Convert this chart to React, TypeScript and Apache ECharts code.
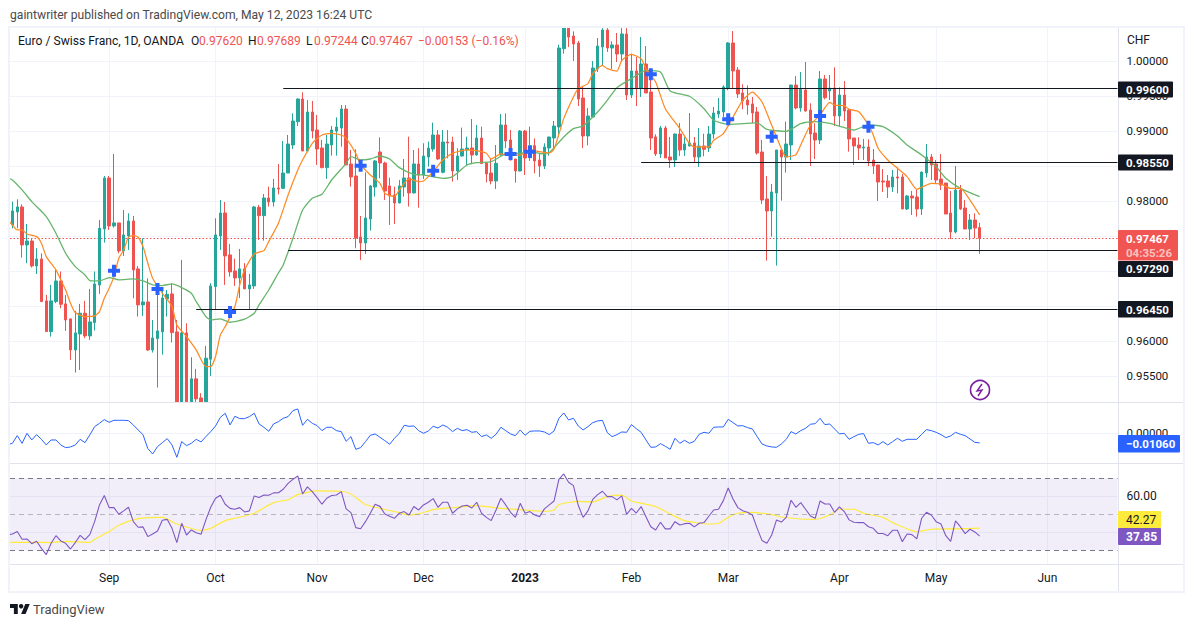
import React, { useEffect, useRef } from "react";
import * as echarts from "echarts";

const FONT = "Roboto";
const BAR_SLOTS = 229;

const monthTickIndex = [20, 42, 63, 85, 106, 128, 148, 171, 191, 214];
const monthTickLabel = ["Sep", "Oct", "Nov", "Dec", "2023", "Feb", "Mar", "Apr", "May", "Jun"];

const opens = [
0.97658,0.97844,0.97915,0.97372,0.97429,0.97072,0.97172,0.96573,0.96135,0.96563,
0.96858,0.96530,0.96315,0.95872,0.96101,0.96397,0.96073,0.96263,0.96801,0.97601,
0.98329,0.97644,0.97687,0.97287,0.97501,0.97715,0.97030,0.96516,0.96558,0.95872,
0.96035,0.96130,0.96601,0.96673,0.96130,0.9513,0.96116,0.9513,0.95459,0.95187,
0.9513,0.95740,0.96777,0.97501,0.97829,0.97230,0.97001,0.96901,0.97030,0.96744,
0.96787,0.97910,0.97791,0.98043,0.97986,0.98186,0.98181,0.98400,0.98800,0.99133,
0.99457,0.98714,0.99271,0.99014,0.98757,0.98477,0.98800,0.98999,0.99043,0.99314,
0.98529,0.98357,0.97486,0.97401,0.97743,0.98200,0.98700,0.98543,0.98215,0.98086,
0.97972,0.98200,0.98329,0.98115,0.98529,0.98372,0.98629,0.98743,0.98943,0.98410,
0.98843,0.98843,0.98429,0.98643,0.98729,0.98757,0.98657,0.98900,0.98543,0.98400,
0.98286,0.98657,0.99086,0.98872,0.98600,0.98429,0.98999,0.98619,0.98791,0.98586,
0.98500,0.98757,0.98900,0.99057,1.00176,1.0047,1.00357,1.00257,0.99472,0.98929,
0.99200,0.99886,1.00200,1.00443,1.00186,1.00229,1.00100,1.00386,0.99514,0.99857,
0.99614,0.99957,0.99557,0.98915,0.98672,0.99043,0.98629,0.98586,0.98957,0.98729,
0.98786,0.98829,0.98629,0.98786,0.98757,0.98957,0.99243,0.99272,0.99614,1.00257,
0.99871,0.99543,0.99443,0.99386,0.99272,0.98700,0.98029,0.97857,0.98114,0.98729,
0.98629,0.98800,0.99657,0.99329,0.99586,0.99300,0.98971,0.98871,0.99743,0.99571,
0.99614,0.99214,0.99514,0.99300,0.98900,0.98800,0.98757,0.98771,0.98586,0.98514,
0.98286,0.98286,0.98200,0.98343,0.98343,0.97886,0.98071,0.98057,0.97886,0.98400,
0.98629,0.98529,0.98314,0.98257,0.97829,0.97557,0.98157,0.97900,0.97600,0.97729,
0.97620];
const highs = [
0.97991,0.98024,0.97953,0.97672,0.97467,0.97325,0.97253,0.96658,0.96801,0.97015,
0.96992,0.96658,0.96325,0.96430,0.96530,0.96573,0.96744,0.96992,0.97729,0.98358,
0.98358,0.98672,0.97687,0.97872,0.97825,0.97787,0.97072,0.97467,0.96896,0.96301,
0.96730,0.96730,0.96730,0.96825,0.96301,0.97158,0.96254,0.95768,0.95602,0.95254,
0.95930,0.96825,0.97753,0.98015,0.97986,0.97387,0.97177,0.97315,0.97111,0.96958,
0.97929,0.97943,0.98100,0.98205,0.98315,0.98529,0.98857,0.98943,0.99252,0.99467,
0.99552,0.99443,0.99429,0.99229,0.98872,0.98943,0.99072,0.99195,0.99371,0.99371,
0.98729,0.98738,0.97786,0.98410,0.98229,0.98586,0.98910,0.98562,0.98334,0.98205,
0.98300,0.98600,0.98919,0.98729,0.98753,0.98824,0.98848,0.99119,0.99014,0.99014,
0.99014,0.98919,0.98753,0.99048,0.98919,0.99171,0.99086,0.99062,0.98553,0.98610,
0.98800,0.99243,0.99252,0.99014,0.98600,0.99014,0.99014,0.99062,0.98895,0.98681,
0.98824,0.98919,0.99143,1.00233,1.0047,1.0047,1.00424,1.00286,0.99629,0.99329,
1.00000,1.00328,1.0047,1.0047,1.00281,1.00400,1.0047,1.0047,1.00105,1.00057,
1.00343,1.00214,0.99891,0.98953,0.99072,0.99072,0.98915,0.98962,0.99114,0.98915,
0.99257,0.98915,0.99043,0.98962,0.99072,0.99343,0.99472,0.99653,1.00271,1.00428,
0.99914,0.99667,0.99653,0.99486,0.99343,0.98871,0.98357,0.98243,0.98729,0.98729,
0.99133,0.99657,0.99786,0.99843,0.99986,0.99395,0.99110,0.99857,0.99800,0.99800,
0.99909,0.99624,0.99714,0.99324,0.98900,0.98910,0.98886,0.98881,0.98743,0.98514,
0.98457,0.98371,0.98443,0.98481,0.98386,0.98086,0.98143,0.98157,0.98419,0.98814,
0.98671,0.98586,0.98671,0.98257,0.98143,0.98500,0.98229,0.98014,0.97814,0.97824,
0.97689];
const lows = [
0.97610,0.97610,0.97191,0.97111,0.97049,0.96958,0.96563,0.96135,0.96063,0.96540,
0.96468,0.96144,0.95730,0.95549,0.95587,0.96040,0.96016,0.96149,0.96673,0.97406,
0.97587,0.97620,0.97253,0.97215,0.97301,0.96611,0.96349,0.96358,0.95858,0.95835,
0.95335,0.95806,0.96349,0.95978,0.9513,0.9513,0.9513,0.9513,0.9513,0.9513,
0.9513,0.95502,0.96444,0.97301,0.96801,0.96920,0.96787,0.96615,0.96744,0.96454,
0.96744,0.97444,0.97434,0.97920,0.97920,0.98096,0.98172,0.98400,0.98743,0.99072,
0.98714,0.98714,0.98895,0.98515,0.98467,0.98315,0.98648,0.98648,0.98776,0.98515,
0.98205,0.97324,0.97158,0.97244,0.97577,0.98062,0.98324,0.98015,0.97657,0.97672,
0.97967,0.98062,0.97920,0.98110,0.97905,0.98315,0.98491,0.98705,0.98586,0.98396,
0.98610,0.98277,0.98300,0.98634,0.98515,0.98524,0.98648,0.98534,0.98267,0.98238,
0.98172,0.98648,0.98753,0.98581,0.98262,0.98424,0.98372,0.98572,0.98396,0.98343,
0.98457,0.98648,0.98757,0.98915,1.00105,1.00200,1.00000,0.99357,0.98757,0.98796,
0.99195,0.99843,0.99938,1.00129,0.99886,0.99986,0.99986,0.99443,0.99472,0.99357,
0.99486,0.99543,0.98729,0.98643,0.98615,0.98615,0.98472,0.98486,0.98643,0.98643,
0.98781,0.98557,0.98486,0.98639,0.98700,0.98891,0.99186,0.99200,0.99581,0.99614,
0.99472,0.99310,0.99234,0.99114,0.98662,0.97957,0.97148,0.97491,0.97077,0.98005,
0.98405,0.98586,0.99310,0.99276,0.99276,0.98500,0.98600,0.98814,0.99452,0.99443,
0.99071,0.99062,0.99143,0.98705,0.98514,0.98586,0.98586,0.98500,0.98386,0.98000,
0.98129,0.98043,0.98129,0.98110,0.97886,0.97871,0.97800,0.97776,0.97800,0.98338,
0.98300,0.98252,0.98157,0.97814,0.97457,0.97538,0.97871,0.97600,0.97443,0.97467,
0.97244];
const closes = [
0.97858,0.97915,0.97372,0.97429,0.97072,0.97172,0.96563,0.96135,0.96573,0.96858,
0.96525,0.96301,0.95872,0.96116,0.96397,0.96073,0.96273,0.96815,0.97610,0.98329,
0.97644,0.97687,0.97287,0.97515,0.97715,0.97015,0.96516,0.96558,0.95872,0.96044,
0.96144,0.96615,0.96668,0.96120,0.9513,0.96116,0.9513,0.95459,0.95173,0.9513,
0.95754,0.96787,0.97515,0.97829,0.97215,0.96987,0.96901,0.97030,0.96744,0.96801,
0.97915,0.97791,0.98043,0.97986,0.98186,0.98172,0.98400,0.98814,0.99143,0.99457,
0.98714,0.99271,0.98999,0.98743,0.98477,0.98814,0.99014,0.99057,0.99314,0.98515,
0.98343,0.97472,0.97401,0.97757,0.98215,0.98572,0.98543,0.98143,0.98072,0.97972,
0.98215,0.98329,0.98115,0.98529,0.98372,0.98643,0.98757,0.98943,0.98600,0.98843,
0.98829,0.98429,0.98643,0.98743,0.98757,0.98657,0.98900,0.98534,0.98386,0.98286,
0.98538,0.99086,0.98857,0.98586,0.98429,0.98999,0.98614,0.98791,0.98572,0.98500,
0.98772,0.98914,0.99071,1.00186,1.0047,1.00343,1.00243,0.99457,0.98929,0.99214,
0.99900,1.00214,1.00443,1.00186,1.00229,1.00100,1.00386,0.99514,0.99857,0.99614,
0.99957,0.99543,0.98900,0.98672,0.99043,0.98615,0.98586,0.98957,0.98729,0.98815,
0.98829,0.98629,0.98786,0.98739,0.98957,0.99257,0.99286,0.99629,1.00257,0.99857,
0.99529,0.99429,0.99372,0.99257,0.98686,0.98014,0.97857,0.98129,0.98729,0.98629,
0.98814,0.99657,0.99329,0.99595,0.99286,0.98957,0.98871,0.99743,0.99476,0.99614,
0.99214,0.99514,0.99286,0.98886,0.98786,0.98757,0.98771,0.98571,0.98500,0.98271,
0.98271,0.98200,0.98343,0.98329,0.97886,0.98071,0.98043,0.97886,0.98414,0.98629,
0.98514,0.98300,0.98229,0.97814,0.97557,0.98157,0.97886,0.97600,0.97729,0.97614,
0.97467];

const ma9Fast = [[-1,0.97730],[0,0.97658],[1,0.97587],[2,0.97587],[3,0.97529],[5,0.97491],[6,0.97396],[7,0.97206],[9,0.97015],[10,0.96873],[11,0.96730],[12,0.96540],[13,0.96406],[15,0.96349],[17,0.96358],[18,0.96420],[19,0.96611],[20,0.96754],[21,0.96920],[22,0.97182],[23,0.97301],[24,0.97482],[25,0.97510],[26,0.97482],[27,0.97349],[28,0.97111],[29,0.96896],[31,0.96682],[33,0.96492],[34,0.96230],[36,0.96063],[38,0.95872],[40,0.95635],[41,0.95635],[42,0.95778],[43,0.96087],[44,0.96206],[46,0.96492],[47,0.96801],[48,0.97015],[50,0.97244],[52,0.97291],[53,0.97420],[55,0.97682],[57,0.98086],[59,0.98443],[60,0.98586],[62,0.98824],[64,0.98943],[66,0.98967],[68,0.98943],[69,0.98895],[71,0.98681],[72,0.98515],[74,0.98372],[76,0.98253],[77,0.98110],[79,0.98062],[80,0.98157],[82,0.98315],[84,0.98277],[85,0.98286],[87,0.98419],[89,0.98586],[91,0.98681],[94,0.98729],[96,0.98719],[98,0.98681],[99,0.98600],[101,0.98672],[103,0.98657],[105,0.98657],[107,0.98729],[109,0.98705],[111,0.98686],[112,0.98743],[114,0.99177],[116,0.99486],[117,0.99605],[119,0.99676],[120,0.99819],[122,0.99938],[123,0.99891],[125,0.99857],[126,1.00010],[128,1.00095],[130,1.00033],[131,0.99891],[133,0.99700],[135,0.99319],[138,0.99034],[140,0.98819],[141,0.98772],[144,0.98772],[145,0.98867],[147,0.98962],[149,0.99200],[151,0.99438],[153,0.99557],[155,0.99414],[157,0.99081],[159,0.98748],[160,0.98629],[162,0.98662],[163,0.98800],[165,0.99086],[167,0.99229],[169,0.99409],[170,0.99371],[172,0.99362],[173,0.99309],[175,0.99276],[177,0.99086],[178,0.98943],[179,0.98753],[181,0.98586],[183,0.98467],[185,0.98348],[187,0.98167],[188,0.98196],[190,0.98253],[192,0.98243],[194,0.98181],[196,0.98181],[198,0.98014],[200,0.97800]];
const ma21Slow = [[-1,0.98330],[0,0.98301],[2,0.98158],[4,0.97991],[7,0.97777],[9,0.97539],[11,0.97253],[13,0.97063],[15,0.96944],[16,0.96863],[18,0.96858],[20,0.96906],[22,0.96873],[25,0.96887],[27,0.96858],[29,0.96801],[31,0.96792],[33,0.96815],[35,0.96763],[37,0.96682],[38,0.96563],[40,0.96349],[41,0.96301],[43,0.96316],[45,0.96268],[48,0.96311],[50,0.96397],[51,0.96516],[53,0.96729],[55,0.96971],[56,0.97087],[58,0.97467],[60,0.97872],[62,0.98039],[64,0.98096],[66,0.98300],[69,0.98538],[70,0.98634],[72,0.98586],[74,0.98600],[76,0.98643],[78,0.98600],[80,0.98477],[83,0.98381],[85,0.98372],[89,0.98324],[91,0.98348],[94,0.98515],[96,0.98548],[99,0.98562],[102,0.98672],[105,0.98681],[107,0.98705],[110,0.98672],[111,0.98691],[114,0.98915],[116,0.99034],[118,0.99072],[121,0.99272],[123,0.99438],[125,0.99619],[128,0.99748],[131,0.99867],[134,0.99843],[136,0.99572],[140,0.99496],[143,0.99319],[145,0.99153],[148,0.99096],[151,0.99105],[154,0.99115],[156,0.99024],[160,0.98995],[163,0.99105],[166,0.99133],[169,0.99110],[171,0.99071],[174,0.99014],[177,0.99086],[180,0.99062],[183,0.98929],[185,0.98800],[188,0.98657],[191,0.98491],[193,0.98324],[196,0.98181],[200,0.98062]];

const levelPrices = [0.996, 0.9855, 0.9729, 0.9645];
const levelStarts = [56, 130, 57, 38];
const lastPrice = 0.97467;

const crossMarks = [[21,0.97004],[30,0.96743],[45,0.96414],[72,0.98504],[87,0.98433],[103,0.98671],[107,0.98704],[132,0.99810],[148,0.99167],[157,0.98919],[167,0.99214],[177,0.99061]];

const oscillatorOffLeft = -0.0125;
const oscillator = [
-0.01093,-0.00255,-0.01093,0,-0.00729,-0.00146,-0.00656,-0.01275,-0.00729,-0.00729,
-0.01275,-0.01566,-0.01494,-0.01275,-0.00656,-0.0102,-0.00182,0.00729,0.01093,0.01494,
0.01202,0.01421,0.01421,0.01421,0.01384,0.00911,0.00364,-0.00146,-0.01676,-0.02259,
-0.01457,-0.0102,-0.00583,-0.01275,-0.02623,-0.00911,-0.01348,-0.01093,-0.00656,-0.00947,
-0.00364,0.00182,0.00801,0.01749,0.02186,0.00911,0.01858,0.01603,0.01603,0.01821,
0.02186,0.0102,0.00656,0.00219,0.0102,0.01275,0.01639,0.01821,0.02477,0.02659,
0.00874,0.0153,0.01093,0.00838,0.00291,0.00656,0.00656,0.00291,0.00182,-0.00874,
-0.00364,-0.01749,-0.01566,-0.00911,-0.00219,-0.00073,-0.00437,-0.00801,-0.01202,-0.00546,
0,0.00874,0.00765,0.00801,0.00291,0,0.00255,0.00765,0.00583,0.00911,
0.00656,0.00182,0.00546,0.00291,0.004,0.00109,0.00182,-0.00364,-0.00182,-0.00546,
-0.00109,0.00656,0.00291,-0.00073,-0.00255,0.00364,-0.00219,0.00219,0.00255,0.00255,
0.00146,-0.00146,0.00255,0.01639,0.02222,0.01457,0.01639,0.00801,0.00364,0.00729,
0.01166,0.01348,0.01421,0.00073,-0.00364,-0.00146,0.00146,0.00109,0.00947,0.0051,
0.00109,-0.00729,-0.0153,-0.01494,-0.01129,-0.01421,-0.01749,-0.00546,-0.01093,-0.00765,
-0.01093,-0.00874,-0.00109,0.00109,0,0.00656,0.00692,0.00692,0.0153,0.01166,
0.00801,0.00838,0.00619,0.00474,-0.00364,-0.01166,-0.01384,-0.01494,-0.0153,-0.01166,
-0.00656,0.00182,-0.00073,0.00291,0.00546,0.00984,0.01056,0.01639,0.00947,0.0102,
0.00474,-0.00073,0,-0.00656,-0.00364,-0.00109,-0.00036,-0.01093,-0.0102,-0.01275,
-0.00911,-0.01275,-0.00911,-0.00546,-0.00874,-0.00656,-0.00656,-0.00656,-0.00109,0.004,
0.00291,0.00109,-0.00146,-0.00474,-0.00291,0.00109,-0.00109,-0.00255,-0.00619,-0.00984,
-0.0106];

const rsiOffLeft = 38.5;
const rsi = [
39.1,40.4,36.1,36.3,33.7,35.0,31.1,27.6,33.9,38.1,
35.2,33.9,30.7,34.3,38.3,35.9,38.7,45.9,55.2,60.4,
53.7,53.7,50.0,51.9,53.9,45.9,42.8,43.0,37.6,39.1,
40.7,46.7,47.2,42.2,34.3,45.0,38.5,41.3,39.8,38.9,
46.9,53.9,58.9,60.6,55.6,53.3,52.8,53.7,51.3,51.9,
60.2,59.3,60.7,60.6,61.9,62.0,63.9,67.2,69.4,71.3,
61.3,65.2,62.6,59.3,55.6,58.9,60.4,60.7,62.6,53.0,
50.9,42.6,42.0,45.9,50.6,55.6,54.4,50.2,48.9,47.8,50.6,
51.5,49.6,54.3,52.4,55.2,56.7,58.7,53.9,56.7,56.7,
50.6,53.0,54.6,55.0,53.5,56.7,50.6,48.3,46.5,52.4,
58.9,55.2,51.1,48.3,56.1,50.6,51.5,49.6,48.7,53.0,
55.2,57.4,69.4,72.4,67.8,65.9,55.0,48.3,51.9,58.3,
60.9,62.8,59.8,59.8,58.0,60.2,50.0,53.3,50.7,54.3,
48.7,43.1,41.3,45.6,41.9,41.9,45.9,44.1,44.8,45.0,
43.0,45.0,45.4,48.9,52.4,52.8,57.6,64.6,58.5,53.7,
52.0,51.1,49.6,42.2,35.4,33.9,38.5,46.9,45.7,48.3,
57.8,53.9,56.5,52.8,49.1,47.8,57.4,55.7,55.7,51.1,
54.1,51.5,46.9,45.6,45.4,45.4,43.1,42.2,39.3,39.3,
38.1,41.1,41.1,34.8,39.1,38.7,36.3,47.8,51.1,49.6,
45.9,44.6,38.1,35.0,46.3,43.1,39.3,41.7,40.2,37.85];

const rsiMa = [[-1,34.4],[0,34.4],[4,34.4],[8,34.3],[11,35.0],[16,34.4],[17,36.1],[20,40.4],[22,43.9],[26,47.6],[31,48.3],[34,44.6],[39,41.1],[41,42.2],[44,46.5],[46,47.8],[50,50.6],[54,56.5],[57,58.1],[59,60.9],[63,63.0],[68,62.8],[70,61.3],[73,55.4],[76,53.3],[80,50.9],[82,49.6],[84,50.2],[87,52.6],[92,53.9],[96,54.8],[101,53.3],[106,52.4],[110,51.7],[112,52.4],[113,55.4],[117,57.2],[120,56.9],[123,59.8],[126,60.6],[128,57.4],[131,55.6],[133,54.3],[136,50.2],[139,46.5],[144,44.6],[146,45.0],[148,48.3],[150,50.6],[153,51.1],[157,49.8],[159,48.5],[163,47.4],[166,47.2],[169,49.6],[171,52.8],[174,52.8],[176,50.6],[180,48.3],[182,45.4],[187,40.4],[190,41.7],[195,41.9],[200,42.27]];

const priceGrid = [1.0, 0.995, 0.99, 0.985, 0.98, 0.975, 0.97, 0.965, 0.96, 0.955];
const priceLabels = [1.0, 0.995, 0.99, 0.98, 0.96, 0.955];
const oscGrid = [0];
const rsiGrid = [40, 60];
const rsiLabels = [60];
const rsiBands = [30, 50, 70];

const GRID_LINE = "#f0f3fa";
const SEP_LINE = "#e0e3eb";
const TEXT = "#131722";
const RED = "#ef5350";
const TEAL = "#26a69a";

const categories = Array.from({ length: BAR_SLOTS }, (_, i) => {
  const k = monthTickIndex.indexOf(i);
  return k >= 0 ? monthTickLabel[k] : String(i);
});
const isMonthTick = (i: number) => monthTickIndex.includes(i);

echarts.graphic.registerShape(
  "tvLogo",
  echarts.graphic.extendPath("M14 22H7V11H0V4h14v18zM28 22h-8l7.5-18h8L28 22z", {})
);

function makeXAxis(gridIndex: number, showLabel: boolean) {
  return {
    type: "category",
    gridIndex,
    data: categories,
    min: 0,
    max: BAR_SLOTS - 1,
    axisLine: { show: false },
    axisTick: { show: false },
    splitLine: { show: true, interval: (i: number) => isMonthTick(i), alignWithLabel: true, lineStyle: { color: GRID_LINE, width: 1 } },
    axisLabel: showLabel
      ? {
          show: true,
          interval: (i: number) => isMonthTick(i),
          margin: 6,
          height: 16,
          lineHeight: 16,
          color: TEXT,
          fontFamily: FONT,
          fontSize: 12,
          formatter: (v: string) => (v === "2023" ? "{y|2023}" : v),
          rich: { y: { fontWeight: "bold", fontFamily: FONT, fontSize: 12, color: TEXT } },
        }
      : { show: false },
  };
}

function makeYAxis(gridIndex: number, min: number, max: number, grid: number[], labels: number[], digits: number, size: number) {
  return {
    type: "value",
    gridIndex,
    position: "right",
    min,
    max,
    axisLine: { show: false },
    axisTick: { show: false, customValues: grid },
    splitLine: { show: true, lineStyle: { color: GRID_LINE, width: 1 } },
    axisLabel: {
      show: true,
      customValues: labels,
      margin: 9,
      color: TEXT,
      fontFamily: FONT,
      fontSize: size,
      formatter: (v: number) => v.toFixed(digits),
    },
  };
}

function tag(x: number, y: number, w: number, h: number, fill: string) {
  return { type: "rect", z: 100, shape: { x, y, width: w, height: h, r: 1 }, style: { fill } };
}
function label(x: number, y: number, text: string, fill: string, size = 12, weight = "normal") {
  return {
    type: "text",
    z: 101,
    x,
    y,
    style: { text, fill, font: `${weight} ${size}px ${FONT}`, textAlign: "left", textVerticalAlign: "middle" },
  };
}
function rule(x1: number, y1: number, x2: number, y2: number, stroke: string, lineWidth = 1) {
  return { type: "line", z: 50, shape: { x1, y1, x2, y2 }, style: { stroke, lineWidth } };
}

function renderLevel(stroke: string) {
  return (params: any, api: any) => {
    const pt = api.coord([api.value(0), api.value(1)]);
    const y = Math.floor(pt[1]) + 0.5;
    return {
      type: "line",
      shape: { x1: pt[0], y1: y, x2: params.coordSys.x + params.coordSys.width, y2: y },
      style: { stroke, lineWidth: 1 },
    };
  };
}

const option: any = {
  animation: false,
  backgroundColor: "#ffffff",
  grid: [
    { left: 10, width: 1107.5, top: 28, height: 374 },
    { left: 10, width: 1107.5, top: 403, height: 60 },
    { left: 10, width: 1107.5, top: 464, height: 100 },
  ],
  xAxis: [makeXAxis(0, false), makeXAxis(1, false), makeXAxis(2, true)],
  yAxis: [
    makeYAxis(0, 0.951286, 1.004714, priceGrid, priceLabels, 5, 11.5),
    makeYAxis(1, -0.03246, 0.03311, oscGrid, oscGrid, 5, 11.5),
    makeYAxis(2, 22.39, 77.94, rsiGrid, rsiLabels, 2, 12),
  ],
  series: [
    {
      type: "candlestick",
      xAxisIndex: 0,
      yAxisIndex: 0,
      barWidth: 3,
      itemStyle: { color: TEAL, color0: RED, borderColor: TEAL, borderColor0: RED, borderWidth: 1 },
      data: opens.map((o, i) => [o, closes[i], lows[i], highs[i]]),
      z: 3,
    },
    {
      type: "custom",
      xAxisIndex: 0,
      yAxisIndex: 0,
      coordinateSystem: "cartesian2d",
      encode: { x: 0, y: 1 },
      data: [[0, lastPrice]],
      renderItem: (params: any, api: any) => {
        const pt = api.coord([api.value(0), api.value(1)]);
        const y = Math.floor(pt[1]) + 0.5;
        return {
          type: "line",
          shape: { x1: params.coordSys.x, y1: y, x2: params.coordSys.x + params.coordSys.width, y2: y },
          style: { stroke: RED, lineWidth: 1, lineDash: [1.5, 2] },
        };
      },
      silent: true,
      z: 2,
    },
    {
      type: "custom",
      xAxisIndex: 0,
      yAxisIndex: 0,
      coordinateSystem: "cartesian2d",
      encode: { x: 0, y: 1 },
      data: levelPrices.map((p, k) => [levelStarts[k], p]),
      renderItem: renderLevel("#131722"),
      silent: true,
      z: 6,
    },
    {
      type: "line",
      xAxisIndex: 0,
      yAxisIndex: 0,
      data: ma21Slow,
      showSymbol: false,
      smooth: 0.2,
      lineStyle: { color: "#66b56b", width: 1.3 },
      z: 4,
    },
    {
      type: "line",
      xAxisIndex: 0,
      yAxisIndex: 0,
      data: ma9Fast,
      showSymbol: false,
      smooth: 0.2,
      lineStyle: { color: "#ff8a24", width: 1.25 },
      z: 5,
    },
    {
      type: "scatter",
      xAxisIndex: 0,
      yAxisIndex: 0,
      data: crossMarks,
      symbol: "path://M4 0h4v4h4v4h-4v4h-4v-4h-4v-4h4z",
      symbolSize: 12,
      itemStyle: { color: "#2962ff", opacity: 1 },
      z: 7,
    },
    {
      type: "line",
      xAxisIndex: 1,
      yAxisIndex: 1,
      data: [[-1, oscillatorOffLeft], ...oscillator.map((v, i) => [i, v])],
      showSymbol: false,
      lineStyle: { color: "#2962ff", width: 1 },
      z: 4,
    },
    {
      type: "line",
      xAxisIndex: 2,
      yAxisIndex: 2,
      data: rsiMa,
      showSymbol: false,
      smooth: 0.2,
      lineStyle: { color: "#ffeb3b", width: 1.2 },
      z: 4,
    },
    {
      type: "line",
      xAxisIndex: 2,
      yAxisIndex: 2,
      data: [[-1, rsiOffLeft], ...rsi.map((v, i) => [i, v])],
      showSymbol: false,
      lineStyle: { color: "#7e57c2", width: 1.1 },
      z: 5,
      markArea: {
        silent: true,
        itemStyle: { color: "rgba(126,87,194,0.1)" },
        data: [[{ yAxis: rsiBands[0] }, { yAxis: rsiBands[2] }]],
      },
      markLine: {
        silent: true,
        symbol: "none",
        label: { show: false },
        data: [
          { yAxis: rsiBands[2], lineStyle: { color: "#787b86", type: [5, 4], width: 1 } },
          { yAxis: rsiBands[1], lineStyle: { color: "rgba(120,123,134,0.5)", type: [5, 4], width: 1 } },
          { yAxis: rsiBands[0], lineStyle: { color: "#787b86", type: [5, 4], width: 1 } },
        ],
      },
    },
  ],
  graphic: [
    { type: "rect", z: 49, shape: { x: 9, y: 27, width: 1175, height: 565 }, style: { fill: "none", stroke: "#f0f3fa", lineWidth: 2 } },
    rule(10, 402.5, 1183, 402.5, SEP_LINE),
    rule(10, 463.5, 1183, 463.5, SEP_LINE),
    rule(10, 564.5, 1183, 564.5, SEP_LINE),
    rule(1118.5, 28, 1118.5, 591, SEP_LINE),

    label(10, 15, "gaintwriter published on TradingView.com, May 12, 2023 16:24 UTC", "#4a4a4a", 12.13),
    label(18, 41, "Euro / Swiss Franc, 1D, OANDA", TEXT, 12.15),
    label(191, 41, "O", TEXT),
    label(199, 41, "0.97620", RED),
    label(248, 41, "H", TEXT),
    label(257, 41, "0.97689", RED),
    label(306, 41, "L", TEXT),
    label(314, 41, "0.97244", RED),
    label(361, 41, "C", TEXT),
    label(369, 41, "0.97467", RED),
    label(418, 41, "\u22120.00153 (\u22120.16%)", RED),

    label(1127, 40, "CHF", TEXT),

    tag(1118, 81.5, 55, 16, "#131722"),
    label(1126, 89.8, "0.99600", "#ffffff", 11.5, "bold"),
    tag(1118, 154.5, 55, 16, "#131722"),
    label(1126, 162.8, "0.98550", "#ffffff", 11.5, "bold"),
    tag(1118, 261, 55, 16, "#131722"),
    label(1126, 269.3, "0.97290", "#ffffff", 11.5, "bold"),
    tag(1118, 301, 55, 16.5, "#131722"),
    label(1126, 309.5, "0.96450", "#ffffff", 11.5, "bold"),
    tag(1118, 230, 60, 30.5, "#f05552"),
    label(1126, 238.5, "0.97467", "#ffffff", 11.5, "bold"),
    label(1126, 252.5, "04:35:26", "rgba(255,255,255,0.65)", 11.5, "bold"),

    tag(1118, 435, 62, 17.5, "#2962ff"),
    label(1126, 444, "\u22120.01060", "#ffffff", 11.5, "bold"),
    tag(1118, 511, 43, 17, "#ffeb3b"),
    label(1126, 520, "42.27", TEXT),
    tag(1118, 528, 43, 17, "#7e57c2"),
    label(1126, 537, "37.85", "#ffffff", 12, "bold"),

    { type: "circle", z: 100, shape: { cx: 980, cy: 390, r: 9.5 }, style: { fill: "#ffffff", stroke: "#7b1fa2", lineWidth: 1.6 } },
    { type: "polyline", z: 101, shape: { points: [[982, 384], [977, 391], [982, 390], [978, 396]] }, style: { fill: "none", stroke: "#7b1fa2", lineWidth: 1.4 } },

    { type: "tvLogo", z: 100, x: 10, y: 601.8, scaleX: 0.556, scaleY: 0.556, style: { fill: "#131722" } },
    { type: "circle", z: 100, shape: { cx: 10 + 20 * 0.556, cy: 601.8 + 8 * 0.556, r: 4 * 0.556 }, style: { fill: "#131722" } },
    label(33, 609, "TradingView", "#4a4a4a", 13),
  ],
};

export default function App() {
  const ref = useRef<HTMLDivElement>(null);
  useEffect(() => {
    document.body.style.margin = "0";
    const chart = echarts.init(ref.current!, undefined, { renderer: "svg" });
    chart.setOption(option);
    return () => chart.dispose();
  }, []);
  return <div ref={ref} style={{ width: 1194, height: 627 }} />;
}
